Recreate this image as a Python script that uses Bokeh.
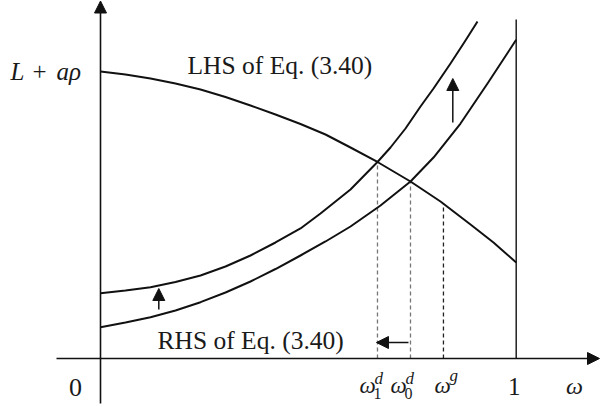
from bokeh.plotting import figure
from bokeh.models import Range1d, Arrow, NormalHead
from bokeh.core.properties import value
from bokeh.embed import file_html
from bokeh.resources import INLINE

# --- curves (omega on x, value normalised so that L + a*rho = 1) ---
lhs_w = [0.0, 0.0601, 0.1203, 0.1804, 0.2406, 0.3007, 0.3608, 0.4210, 0.4811,
         0.5413, 0.6014, 0.6663, 0.7457, 0.8179, 0.8901, 0.9454, 1.0]
lhs_v = [1.0, 0.9895, 0.9756, 0.9582, 0.9373, 0.9111, 0.8815, 0.8502, 0.8171,
         0.7805, 0.7352, 0.6847, 0.6167, 0.5470, 0.4669, 0.4042, 0.3345]

# RHS before the shift
rhs0_w = [0.0, 0.0601, 0.1203, 0.1804, 0.2406, 0.3007, 0.3608, 0.4210, 0.4811,
          0.5413, 0.6014, 0.6736, 0.7457, 0.8011, 0.8660, 0.9310, 1.0]
rhs0_v = [0.1091, 0.1254, 0.1439, 0.1672, 0.1962, 0.2300, 0.2683, 0.3118, 0.3589,
          0.4077, 0.4599, 0.5331, 0.6167, 0.7003, 0.8188, 0.9582, 1.1105]

# RHS after the upward shift
rhs1_w = [0.0, 0.0601, 0.1203, 0.1804, 0.2406, 0.3007, 0.3608, 0.4210, 0.4811,
          0.5292, 0.6014, 0.6663, 0.6976, 0.7337, 0.7698, 0.8011, 0.8420, 0.8780, 0.9069]
rhs1_v = [0.2275, 0.2369, 0.2484, 0.2666, 0.2892, 0.3206, 0.3589, 0.4042, 0.4530,
          0.5052, 0.5889, 0.6847, 0.7352, 0.8014, 0.8780, 0.9408, 1.0279, 1.1080, 1.1742]

# equilibrium points: omega_1^d, omega_0^d, omega^g and the LHS value there
eq_w = [0.6663, 0.7457, 0.825]
eq_v = [0.6847, 0.6167, 0.539]
eq_colors = ["#777777", "#777777", "#222222"]

W, H = 600, 407
# pixel layout of the diagram
X0, XS = 100.0, 415.7     # omega = 0 at x = 100 px, one unit = 415.7 px
Y0, YS = 358.0, 287.0     # value = 0 at y = 358 px, one unit = 287 px


def px(x):
    return (x - X0) / XS


def py(y):
    return (Y0 - y) / YS


p = figure(width=W, height=H, output_backend="svg", toolbar_location=None,
           x_range=Range1d(px(0), px(W)), y_range=Range1d(py(H), py(0)),
           x_axis_location=None, y_axis_location=None, min_border=0)
p.grid.visible = False
p.outline_line_color = None
p.background_fill_color = "white"
p.border_fill_color = "white"

ink = "#111111"

# axes with arrow heads
p.add_layout(Arrow(end=NormalHead(size=12, fill_color=ink, line_color=ink, line_width=1),
                   x_start=px(56), y_start=0, x_end=px(599), y_end=0,
                   line_color=ink, line_width=1.6))
p.add_layout(Arrow(end=NormalHead(size=12, fill_color=ink, line_color=ink, line_width=1),
                   x_start=0, y_start=py(403), x_end=0, y_end=py(0.5),
                   line_color=ink, line_width=1.6))

# omega = 1 boundary
p.segment(x0=[1.0], y0=[0.0], x1=[1.0], y1=[py(19)], line_color=ink, line_width=1.4)

# dashed guides down from the crossings
p.segment(x0=eq_w, y0=[0.0] * 3, x1=eq_w, y1=eq_v, line_color=eq_colors,
          line_width=1.3, line_dash="4 3")

# curves
for w, v in [(lhs_w, lhs_v), (rhs0_w, rhs0_v), (rhs1_w, rhs1_v)]:
    p.line(w, v, line_color=ink, line_width=2.0, line_join="round")

# shift arrows
head = dict(size=12, fill_color=ink, line_color=ink, line_width=1)
p.add_layout(Arrow(end=NormalHead(**head), x_start=px(452.3), y_start=py(122),
                   x_end=px(452.3), y_end=py(78), line_color=ink, line_width=1.5))
p.add_layout(Arrow(end=NormalHead(**head), x_start=px(158.3), y_start=py(309),
                   x_end=px(158.3), y_end=py(288), line_color=ink, line_width=1.5))
p.add_layout(Arrow(end=NormalHead(**head), x_start=eq_w[1] - 2 / XS, y_start=py(342),
                   x_end=eq_w[0] - 1 / XS, y_end=py(342), line_color=ink, line_width=1.5))

serif = value("Liberation Serif")
txt = "#1a1a1a"
mid = dict(text_font=serif, text_color=txt, text_baseline="middle")

# curve captions
p.text(x=[px(187)], y=[py(64.5)], text=["LHS of Eq. (3.40)"], text_font_size="25.5px", **mid)
p.text(x=[px(157)], y=[py(339.5)], text=["RHS of Eq. (3.40)"], text_font_size="25.5px", **mid)

# y level label  L + a rho
p.text(x=[px(10)], y=[py(70.5)], text=["L"], text_font_style="italic",
       text_font_size="25px", **mid)
p.text(x=[px(32)], y=[py(70.5)], text=["+"], text_font_size="25px", **mid)
p.text(x=[px(56)], y=[py(70.5)], text=["aρ"], text_font_style="italic",
       text_font_size="25px", **mid)

# x tick labels
p.text(x=[px(75)], y=[py(386.5)], text=["0"], text_font_size="26px", text_align="center", **mid)
p.text(x=[1.0 - 2 / XS], y=[py(386)], text=["1"], text_font_size="25px",
       text_align="center", **mid)
p.text(x=[px(574)], y=[py(385)], text=["ω"], text_font_style="italic",
       text_font_size="24px", text_align="center", **mid)

# omega labels with sub/superscripts, placed around their dashed guides
base_dx = [-18, -20, -9]
subs = ["1", "0", ""]
sups = ["d", "d", "g"]
for w, dx, sb, sp in zip(eq_w, base_dx, subs, sups):
    x_l = w + dx / XS
    p.text(x=[x_l], y=[py(385)], text=["ω"], text_font_style="italic",
           text_font_size="23px", **mid)
    if sb:
        p.text(x=[x_l + 14 / XS], y=[py(392.5)], text=[sb], text_font_size="16px", **mid)
    p.text(x=[x_l + 15 / XS], y=[py(378 if sp == "d" else 375)], text=[sp],
           text_font_style="italic", text_font_size="17px", **mid)

open("out.html", "w").write(file_html(p, INLINE))
